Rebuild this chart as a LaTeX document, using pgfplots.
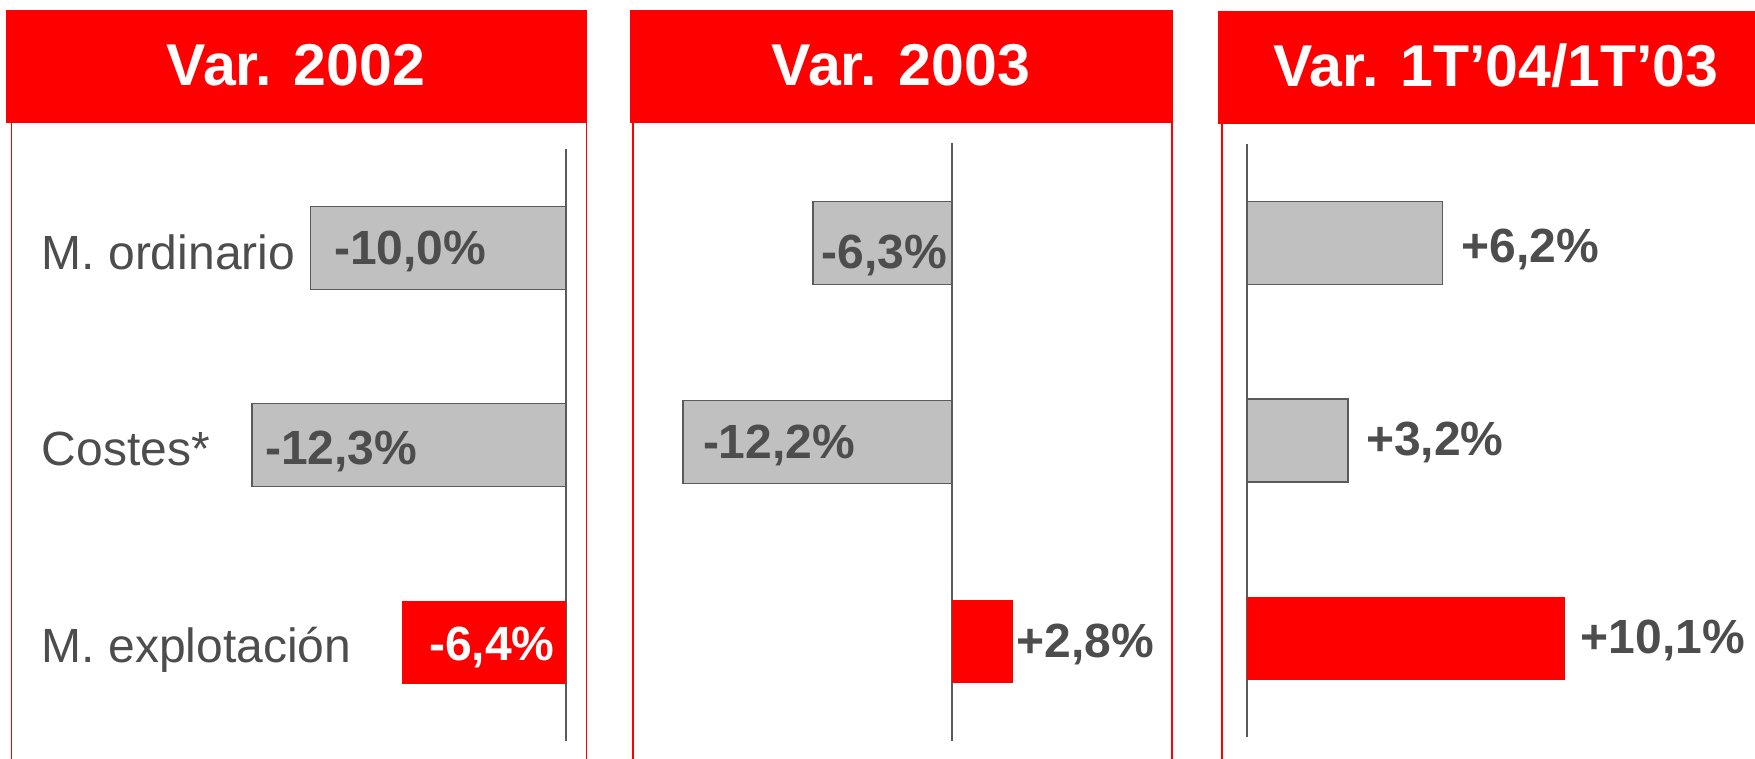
\documentclass[border=0pt]{standalone}
\usepackage{fontspec}
\setmainfont{Liberation Sans}
\usepackage{pgfplots}
\pgfplotsset{compat=1.18}
\definecolor{txt}{HTML}{4D4D4D}
\definecolor{bargray}{HTML}{C0C0C0}
\definecolor{baredge}{HTML}{5A5A5A}
\definecolor{hdr}{HTML}{FF0000}
\pgfplotsset{panel/.style={
  y dir=reverse, ymin=-0.5, ymax=2.5, enlargelimits=false, clip=false,
  axis x line=none, axis y line=middle,
  y axis line style={-, draw=baredge, line width=0.9pt},
  every inner y axis line/.append style={-},
  xtick=\empty, ytick=\empty, anchor=north west},
  graybar/.style={xbar, bar shift=0pt, bar width=41.5pt, fill=bargray, draw=baredge, line width=0.75pt},
  redbar/.style={xbar, bar shift=0pt, bar width=41.5pt, fill=hdr, draw=none}}
\tikzset{lab/.style={anchor=base west, inner sep=0pt, text=txt, font=\fontsize{24pt}{29pt}\selectfont},
  val/.style={lab, font=\fontsize{24pt}{29pt}\selectfont\bfseries},
  ttl/.style={anchor=base, inner sep=0pt, text=white, font=\fontsize{29.5pt}{36pt}\selectfont\bfseries}}
\begin{document}
\begin{tikzpicture}
\path[use as bounding box] (0pt,0pt) rectangle (877.5pt,379.5pt);
% headers and frames
\fill[hdr] (3.05pt,374.5pt) rectangle (293.3pt,318pt);
\fill[hdr] (315.1pt,374.5pt) rectangle (586.45pt,318pt);
\fill[hdr] (609.2pt,374pt) rectangle (877.5pt,317.5pt);
\draw[hdr, line width=0.8pt] (5.75pt,318pt) -- (5.75pt,0pt);
\draw[hdr, line width=0.8pt] (293.3pt,318pt) -- (293.3pt,0pt);
\draw[hdr, line width=0.8pt] (316.45pt,318pt) -- (316.45pt,0pt);
\draw[hdr, line width=0.8pt] (586.05pt,318pt) -- (586.05pt,0pt);
\draw[hdr, line width=0.8pt] (610.95pt,318pt) -- (610.95pt,0pt);
\node[ttl] at (148pt,336.5pt) {Var. 2002};
\node[ttl] at (450.5pt,336.5pt) {Var. 2003};
\node[ttl] at (748pt,336pt) {Var. 1T’04/1T’03};
% panel 1
\begin{axis}[panel, x=12.75pt, y=98.6pt, xmin=-13, xmax=1, at={(117.05pt,304.8pt)}]
\addplot[graybar] coordinates {(-10.0,0) (-12.3,1)};
\addplot[redbar] coordinates {(-6.4,2)};
\end{axis}
% panel 2
\begin{axis}[panel, x=11.015pt, y=99.5pt, xmin=-13, xmax=4, at={(332.65pt,307.75pt)}]
\addplot[graybar] coordinates {(-6.3,0) (-12.2,1)};
\addplot[redbar] coordinates {(2.8,2)};
\end{axis}
% panel 3
\begin{axis}[panel, x=15.75pt, y=98.75pt, xmin=-1, xmax=12, at={(607.8pt,307.375pt)}]
\addplot[graybar] coordinates {(6.2,0) (3.2,1)};
\addplot[redbar] coordinates {(10.1,2)};
\end{axis}
% category labels
\node[lab] at (20.65pt,244.5pt) {M. ordinario};
\node[lab] at (20.65pt,146.5pt) {Costes*};
\node[lab] at (20.65pt,48pt) {M. explotación};
% value labels
\node[val] at (166.85pt,247pt) {-10,0\%};
\node[val] at (132.4pt,147pt) {-12,3\%};
\node[val, anchor=base east, text=white] at (277.45pt,49pt) {-6,4\%};
\node[val] at (410.6pt,245pt) {-6,3\%};
\node[val] at (351.3pt,150pt) {-12,2\%};
\node[val] at (508.15pt,50.5pt) {+2,8\%};
\node[val] at (730.6pt,248pt) {+6,2\%};
\node[val] at (682.85pt,151.5pt) {+3,2\%};
\node[val] at (790.25pt,52.5pt) {+10,1\%};
\end{tikzpicture}
\end{document}
